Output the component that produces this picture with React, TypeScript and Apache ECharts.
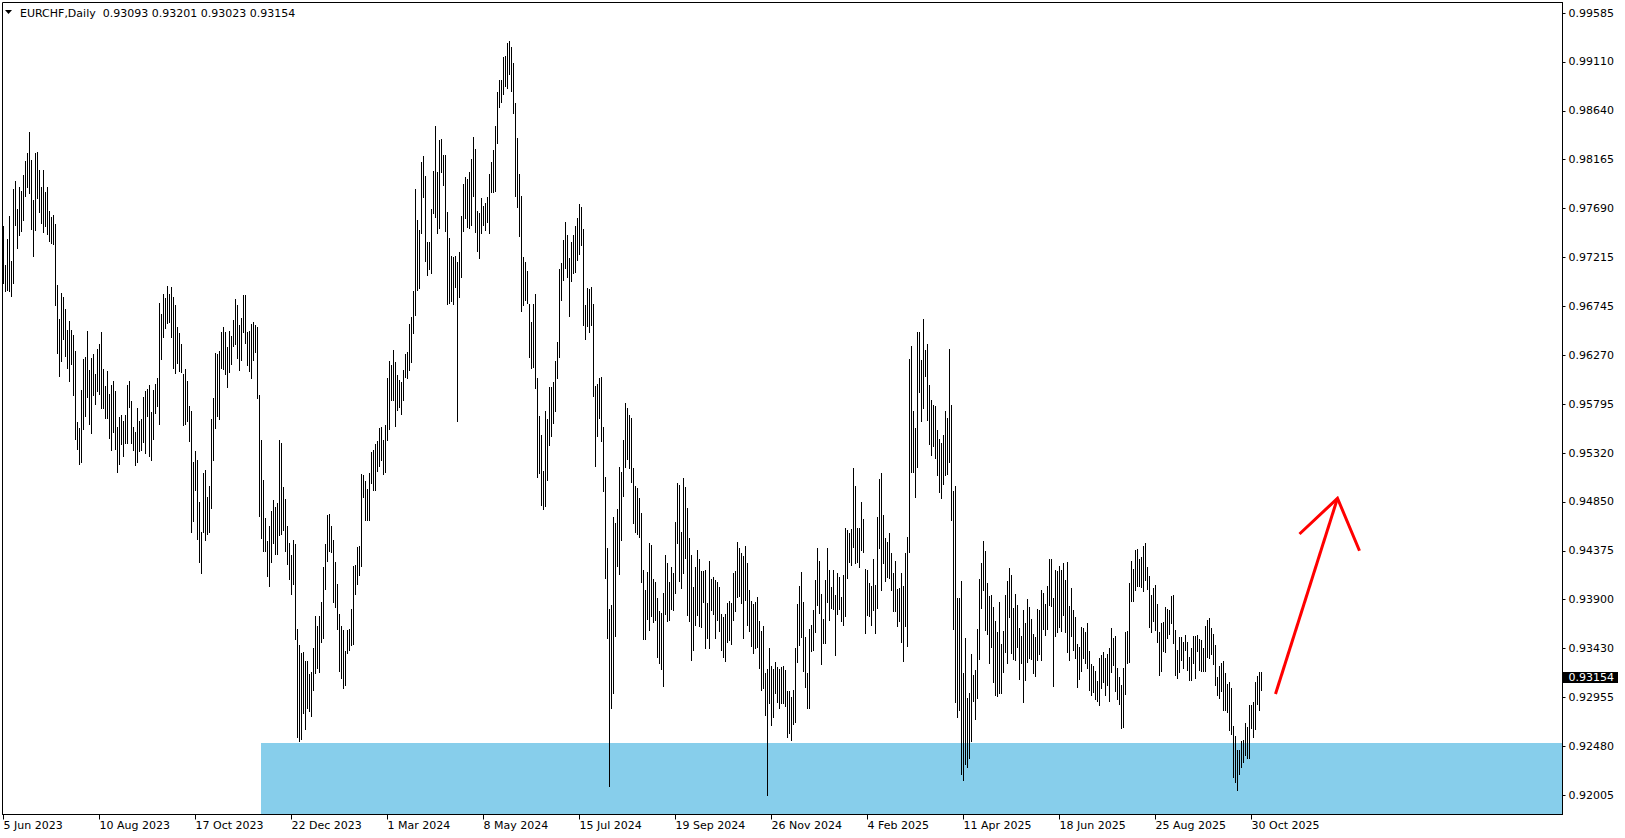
import React, { useEffect, useRef } from "react";
import * as echarts from "echarts";

// ---------- data ----------
const SYMBOL = "EURCHF";
const TIMEFRAME = "Daily";
const LAST_OHLC = [0.93093, 0.93201, 0.93023, 0.93154]; // open, high, low, close of last bar

const FIRST_DATE = "2023-06-05";
const HOLIDAYS_MMDD = ["12-25", "01-01"]; // days with no bar
const TOTAL_SLOTS = 780; // bars + empty space on the right (chart shift)

const X_TICK_LABELS = [
  "5 Jun 2023", "10 Aug 2023", "17 Oct 2023", "22 Dec 2023", "1 Mar 2024", "8 May 2024", "15 Jul 2024",
  "19 Sep 2024", "26 Nov 2024", "4 Feb 2025", "11 Apr 2025", "18 Jun 2025", "25 Aug 2025", "30 Oct 2025",
];

const Y_TICK_VALUES = [
  0.92005, 0.9247875, 0.929525, 0.9342625, 0.939, 0.9437375, 0.948475, 0.9532125, 0.95795,
  0.9626875, 0.967425, 0.9721625, 0.9769, 0.9816375, 0.986375, 0.9911125, 0.99585,
];
const Y_TICK_LABELS = [
  "0.92005", "0.92480", "0.92955", "0.93430", "0.93900", "0.94375", "0.94850", "0.95320", "0.95795",
  "0.96270", "0.96745", "0.97215", "0.97690", "0.98165", "0.98640", "0.99110", "0.99585",
];
const Y_MIN = 0.91819;
const Y_MAX = 0.996872;

const HIGHS = [
  0.9752,0.9714,0.9740,0.9762,0.9718,0.9788,0.9796,0.9769,0.9790,0.9786,
  0.9802,0.9815,0.9823,0.9843,0.9816,0.9777,0.9823,0.9824,0.9806,0.9790,
  0.9806,0.9785,0.9790,0.9767,0.9761,0.9763,0.9754,0.9695,0.9662,0.9687,
  0.9683,0.9672,0.9651,0.9660,0.9651,0.9647,0.9631,0.9562,0.9556,0.9593,
  0.9623,0.9625,0.9650,0.9613,0.9624,0.9628,0.9609,0.9633,0.9638,0.9649,
  0.9614,0.9597,0.9612,0.9589,0.9598,0.9602,0.9592,0.9557,0.9567,0.9569,
  0.9563,0.9569,0.9598,0.9602,0.9583,0.9557,0.9553,0.9576,0.9563,0.9565,
  0.9586,0.9592,0.9594,0.9598,0.9572,0.9593,0.9599,0.9605,0.9678,
  0.9667,0.9686,0.9682,0.9694,0.9686,0.9693,0.9683,0.9676,0.9654,0.9648,
  0.9638,0.9609,0.9614,0.9602,0.9578,0.9573,0.9523,0.9534,0.9525,0.9485,
  0.9456,0.9513,0.9516,0.9490,0.9500,0.9565,0.9585,0.9629,0.9628,0.9631,
  0.9649,0.9654,0.9649,0.9635,0.9650,0.9646,0.9661,0.9681,0.9676,0.9656,
  0.9663,0.9685,0.9685,0.9649,0.9650,0.9657,0.9659,0.9656,0.9654,0.9588,
  0.9545,0.9506,0.9469,0.9447,0.9461,0.9476,0.9487,0.9480,0.9484,0.9545,
  0.9542,0.9499,0.9488,0.9461,0.9445,0.9433,0.9448,0.9444,0.9362,0.9346,
  0.9338,0.9339,0.9331,0.9331,0.9318,0.9320,0.9343,0.9374,0.9365,0.9374,
  0.9388,0.9422,0.9444,0.9472,0.9473,0.9461,0.9448,0.9427,0.9405,0.9376,
  0.9365,0.9361,0.9340,0.9361,0.9362,0.9381,0.9423,0.9424,0.9441,0.9442,
  0.9512,0.9511,0.9505,0.9497,0.9513,0.9533,0.9535,0.9541,0.9544,0.9556,
  0.9557,0.9545,0.9559,0.9605,0.9621,0.9617,0.9632,0.9620,0.9608,0.9603,
  0.9601,0.9613,0.9628,0.9630,0.9657,0.9664,0.9689,0.9788,0.9758,0.9748,
  0.9814,0.9820,0.9801,0.9737,0.9737,0.9769,0.9805,0.9849,0.9804,0.9835,
  0.9836,0.9821,0.9821,0.9766,0.9741,0.9723,0.9722,0.9723,0.9717,0.9727,
  0.9762,0.9793,0.9800,0.9798,0.9804,0.9817,0.9838,0.9827,0.9767,0.9765,
  0.9779,0.9772,0.9774,0.9780,0.9803,0.9814,0.9826,0.9849,0.9882,0.9894,
  0.9894,0.9916,0.9917,0.9929,0.9931,0.9926,0.9910,0.9871,0.9837,0.9803,
  0.9781,0.9722,0.9717,0.9709,0.9677,0.9659,0.9677,0.9686,0.9605,0.9568,
  0.9550,0.9515,0.9573,0.9565,0.9596,0.9596,0.9601,0.9621,0.9640,0.9710,
  0.9716,0.9739,0.9756,0.9743,0.9721,0.9737,0.9743,0.9752,0.9760,0.9773,
  0.9771,0.9749,0.9676,0.9692,0.9691,0.9693,0.9677,0.9597,0.9599,0.9605,
  0.9606,0.9557,0.9509,0.9440,0.9381,0.9385,0.9470,0.9464,0.9478,0.9519,
  0.9514,0.9545,0.9581,0.9576,0.9569,0.9566,0.9518,0.9500,0.9498,0.9489,
  0.9474,0.9419,0.9399,0.9417,0.9445,0.9443,0.9410,0.9407,0.9392,0.9379,
  0.9377,0.9397,0.9433,0.9426,0.9407,0.9422,0.9416,0.9465,0.9503,0.9501,
  0.9456,0.9508,0.9499,0.9479,0.9450,0.9433,0.9402,0.9422,0.9438,0.9429,
  0.9418,0.9418,0.9419,0.9387,0.9428,0.9410,0.9412,0.9409,0.9407,0.9402,
  0.9376,0.9373,0.9376,0.9387,0.9389,0.9387,0.9416,0.9418,0.9446,0.9440,
  0.9435,0.9432,0.9442,0.9426,0.9399,0.9389,0.9386,0.9388,0.9393,0.9369,
  0.9360,0.9365,0.9319,0.9323,0.9343,0.9326,0.9323,0.9330,0.9325,0.9323,
  0.9325,0.9326,0.9322,0.9302,0.9302,0.9296,0.9303,0.9343,0.9386,0.9403,
  0.9417,0.9388,0.9354,0.9319,0.9362,0.9366,0.9380,0.9409,0.9440,0.9428,
  0.9396,0.9371,0.9409,0.9440,0.9419,0.9402,0.9419,0.9395,0.9416,0.9412,
  0.9393,0.9414,0.9460,0.9458,0.9455,0.9459,0.9518,0.9500,0.9460,0.9460,
  0.9485,0.9468,0.9420,0.9419,0.9406,0.9403,0.9429,0.9404,0.9470,0.9507,
  0.9513,0.9472,0.9450,0.9446,0.9455,0.9435,0.9416,0.9428,0.9400,0.9401,
  0.9416,0.9403,0.9435,0.9451,0.9623,0.9636,0.9573,0.9556,0.9649,0.9649,
  0.9622,0.9662,0.9632,0.9638,0.9598,0.9584,0.9579,0.9578,0.9554,0.9546,
  0.9542,0.9550,0.9573,0.9566,0.9633,0.9579,0.9495,0.9500,0.9392,0.9392,
  0.9408,0.9319,0.9353,0.9295,0.9300,0.9337,0.9317,0.9322,0.9362,0.9410,
  0.9426,0.9447,0.9437,0.9406,0.9394,0.9395,0.9383,0.9369,0.9359,0.9388,
  0.9347,0.9360,0.9395,0.9408,0.9421,0.9414,0.9382,0.9396,0.9385,0.9363,
  0.9355,0.9380,0.9367,0.9391,0.9383,0.9371,0.9357,0.9354,0.9381,0.9380,
  0.9399,0.9397,0.9386,0.9403,0.9429,0.9429,0.9392,0.9419,0.9418,0.9423,
  0.9419,0.9426,0.9409,0.9427,0.9384,0.9401,0.9380,0.9373,0.9347,0.9344,
  0.9364,0.9363,0.9359,0.9367,0.9340,0.9328,0.9326,0.9321,0.9311,0.9334,
  0.9336,0.9339,0.9334,0.9337,0.9343,0.9363,0.9353,0.9355,0.9324,0.9315,
  0.9307,0.9324,0.9359,0.9360,0.9406,0.9428,0.9420,0.9438,0.9439,0.9429,
  0.9431,0.9442,0.9445,0.9422,0.9413,0.9395,0.9401,0.9404,0.9386,0.9359,
  0.9367,0.9368,0.9383,0.9381,0.9380,0.9394,0.9395,0.9361,0.9341,0.9354,
  0.9354,0.9349,0.9356,0.9349,0.9335,0.9343,0.9355,0.9355,0.9356,0.9352,
  0.9351,0.9343,0.9365,0.9370,0.9372,0.9363,0.9357,0.9346,0.9315,0.9326,
  0.9329,0.9331,0.9319,0.9308,0.9310,0.9304,0.9268,0.9258,0.9244,0.9244,
  0.9253,0.9254,0.9271,0.9267,0.9288,0.9288,0.9291,0.9310,0.9316,0.9320,0.93201,
];

const LOWS = [
  0.9697,0.9689,0.9690,0.9689,0.9684,0.9697,0.9753,0.9731,0.9743,0.9747,
  0.9758,0.9781,0.9790,0.9784,0.9749,0.9723,0.9748,0.9779,0.9766,0.9755,
  0.9746,0.9752,0.9744,0.9738,0.9736,0.9735,0.9676,0.9629,0.9607,0.9621,
  0.9643,0.9626,0.9615,0.9602,0.9618,0.9588,0.9546,0.9536,0.9522,0.9523,
  0.9555,0.9568,0.9586,0.9560,0.9552,0.9588,0.9580,0.9592,0.9589,0.9576,
  0.9576,0.9566,0.9566,0.9547,0.9535,0.9553,0.9536,0.9514,0.9522,0.9541,
  0.9529,0.9542,0.9542,0.9577,0.9542,0.9535,0.9521,0.9523,0.9534,0.9535,
  0.9543,0.9532,0.9568,0.9529,0.9525,0.9546,0.9571,0.9578,0.9560,
  0.9623,0.9645,0.9653,0.9658,0.9659,0.9645,0.9615,0.9610,0.9619,0.9612,
  0.9611,0.9559,0.9560,0.9563,0.9544,0.9456,0.9466,0.9496,0.9449,0.9427,
  0.9416,0.9456,0.9448,0.9454,0.9456,0.9479,0.9525,0.9556,0.9568,0.9565,
  0.9615,0.9614,0.9609,0.9596,0.9611,0.9618,0.9636,0.9638,0.9624,0.9613,
  0.9622,0.9649,0.9639,0.9617,0.9612,0.9605,0.9622,0.9630,0.9585,0.9471,
  0.9450,0.9437,0.9437,0.9413,0.9403,0.9427,0.9445,0.9434,0.9434,0.9453,
  0.9454,0.9458,0.9437,0.9425,0.9410,0.9396,0.9405,0.9352,0.9257,0.9253,
  0.9255,0.9280,0.9265,0.9285,0.9282,0.9277,0.9303,0.9319,0.9324,0.9320,
  0.9349,0.9353,0.9400,0.9428,0.9437,0.9436,0.9388,0.9383,0.9362,0.9321,
  0.9314,0.9304,0.9307,0.9338,0.9341,0.9346,0.9347,0.9396,0.9405,0.9414,
  0.9423,0.9490,0.9467,0.9467,0.9467,0.9503,0.9496,0.9496,0.9515,0.9520,
  0.9525,0.9512,0.9514,0.9545,0.9555,0.9584,0.9584,0.9558,0.9574,0.9577,
  0.9570,0.9584,0.9606,0.9605,0.9613,0.9620,0.9648,0.9666,0.9690,0.9692,
  0.9745,0.9780,0.9718,0.9705,0.9710,0.9707,0.9765,0.9761,0.9745,0.9750,
  0.9804,0.9792,0.9747,0.9677,0.9678,0.9679,0.9677,0.9693,0.9563,0.9683,
  0.9703,0.9747,0.9760,0.9751,0.9750,0.9753,0.9781,0.9746,0.9728,0.9721,
  0.9745,0.9753,0.9748,0.9756,0.9745,0.9785,0.9785,0.9786,0.9833,0.9867,
  0.9872,0.9880,0.9888,0.9886,0.9899,0.9883,0.9862,0.9781,0.9771,0.9742,
  0.9670,0.9676,0.9680,0.9678,0.9625,0.9615,0.9616,0.9595,0.9509,0.9513,
  0.9482,0.9478,0.9481,0.9506,0.9540,0.9549,0.9561,0.9573,0.9605,0.9625,
  0.9680,0.9700,0.9711,0.9703,0.9665,0.9699,0.9707,0.9708,0.9719,0.9725,
  0.9734,0.9656,0.9643,0.9655,0.9649,0.9656,0.9587,0.9520,0.9549,0.9566,
  0.9544,0.9495,0.9411,0.9353,0.9210,0.9285,0.9300,0.9355,0.9423,0.9415,
  0.9448,0.9491,0.9519,0.9526,0.9518,0.9504,0.9464,0.9456,0.9454,0.9451,
  0.9407,0.9352,0.9352,0.9371,0.9361,0.9374,0.9368,0.9370,0.9335,0.9329,
  0.9323,0.9306,0.9376,0.9369,0.9370,0.9381,0.9380,0.9397,0.9445,0.9408,
  0.9401,0.9416,0.9430,0.9375,0.9369,0.9332,0.9341,0.9366,0.9375,0.9365,
  0.9364,0.9388,0.9343,0.9353,0.9343,0.9380,0.9376,0.9353,0.9370,0.9360,
  0.9341,0.9335,0.9331,0.9349,0.9351,0.9347,0.9370,0.9379,0.9393,0.9394,
  0.9387,0.9353,0.9390,0.9366,0.9360,0.9345,0.9338,0.9343,0.9344,0.9324,
  0.9303,0.9304,0.9278,0.9201,0.9290,0.9269,0.9276,0.9300,0.9291,0.9285,
  0.9290,0.9290,0.9287,0.9257,0.9261,0.9254,0.9270,0.9272,0.9330,0.9346,
  0.9354,0.9321,0.9305,0.9285,0.9285,0.9340,0.9341,0.9359,0.9385,0.9377,
  0.9328,0.9348,0.9348,0.9388,0.9370,0.9382,0.9381,0.9336,0.9376,0.9381,
  0.9369,0.9366,0.9374,0.9411,0.9427,0.9424,0.9441,0.9426,0.9427,0.9422,
  0.9438,0.9436,0.9358,0.9375,0.9374,0.9366,0.9380,0.9358,0.9382,0.9440,
  0.9399,0.9426,0.9408,0.9412,0.9411,0.9399,0.9379,0.9379,0.9365,0.9369,
  0.9349,0.9331,0.9365,0.9345,0.9436,0.9514,0.9514,0.9490,0.9519,0.9591,
  0.9563,0.9576,0.9607,0.9564,0.9541,0.9530,0.9539,0.9527,0.9511,0.9494,
  0.9489,0.9502,0.9511,0.9512,0.9523,0.9467,0.9362,0.9291,0.9276,0.9283,
  0.9221,0.9215,0.9231,0.9228,0.9237,0.9253,0.9292,0.9274,0.9295,0.9333,
  0.9382,0.9399,0.9361,0.9357,0.9329,0.9344,0.9310,0.9298,0.9297,0.9300,
  0.9300,0.9320,0.9339,0.9329,0.9373,0.9338,0.9333,0.9332,0.9344,0.9313,
  0.9329,0.9291,0.9312,0.9330,0.9334,0.9333,0.9319,0.9316,0.9332,0.9337,
  0.9332,0.9362,0.9356,0.9362,0.9385,0.9384,0.9306,0.9355,0.9359,0.9364,
  0.9360,0.9375,0.9359,0.9339,0.9332,0.9355,0.9341,0.9334,0.9305,0.9313,
  0.9321,0.9334,0.9329,0.9324,0.9303,0.9298,0.9301,0.9294,0.9292,0.9288,
  0.9304,0.9310,0.9298,0.9307,0.9292,0.9320,0.9327,0.9302,0.9294,0.9289,
  0.9266,0.9267,0.9299,0.9329,0.9330,0.9389,0.9389,0.9399,0.9403,0.9403,
  0.9402,0.9398,0.9409,0.9400,0.9364,0.9359,0.9369,0.9361,0.9349,0.9317,
  0.9321,0.9340,0.9339,0.9353,0.9357,0.9367,0.9348,0.9317,0.9314,0.9320,
  0.9332,0.9324,0.9341,0.9322,0.9312,0.9312,0.9329,0.9314,0.9340,0.9322,
  0.9321,0.9321,0.9321,0.9335,0.9334,0.9337,0.9328,0.9307,0.9298,0.9295,
  0.9302,0.9283,0.9283,0.9281,0.9264,0.9260,0.9218,0.9213,0.9206,0.9221,
  0.9228,0.9233,0.9240,0.9237,0.9237,0.9266,0.9257,0.9265,0.9289,0.9283,0.93023,
];

// support zone: starting bar index, top price (extends to the bottom and right edge)
const ZONE = [129, 0.92515];
// arrow: shaft start, tip, head-left end, head-right end  (bar index, price)
const ARROW = [636, 0.92987, 667, 0.94883, 648, 0.94537, 678, 0.94375];

// ---------- helpers ----------
const MONTHS = ["Jan", "Feb", "Mar", "Apr", "May", "Jun", "Jul", "Aug", "Sep", "Oct", "Nov", "Dec"];
function buildDates(): string[] {
  const out: string[] = [];
  const d = new Date(FIRST_DATE + "T00:00:00Z");
  while (out.length < TOTAL_SLOTS) {
    const wd = d.getUTCDay();
    const mmdd = String(d.getUTCMonth() + 1).padStart(2, "0") + "-" + String(d.getUTCDate()).padStart(2, "0");
    if (wd !== 0 && wd !== 6 && !HOLIDAYS_MMDD.includes(mmdd)) {
      out.push(`${d.getUTCDate()} ${MONTHS[d.getUTCMonth()]} ${d.getUTCFullYear()}`);
    }
    d.setUTCDate(d.getUTCDate() + 1);
  }
  return out;
}

const FONT = "DejaVu Sans";

export default function App() {
  const ref = useRef<HTMLDivElement>(null);
  useEffect(() => {
    document.body.style.margin = "0";
    const chart = echarts.init(ref.current!, null, { renderer: "svg" });
    const dates = buildDates();
    const nBars = HIGHS.length;
    const barData = HIGHS.map((h, i) => [i, h, LOWS[i]]);
    const isTickLabel = (index: number, value: string) => index < nBars && X_TICK_LABELS.includes(value);

    const option: any = {
      animation: false,
      backgroundColor: "#ffffff",
      textStyle: { fontFamily: FONT, fontSize: 11, color: "#000" },
      grid: {
        left: 2.5,
        top: 2.5,
        right: 62.5,
        bottom: 23.5,
        show: true,
        borderColor: "#000",
        borderWidth: 1,
        backgroundColor: "#fff",
      },
      xAxis: {
        type: "category",
        data: dates,
        boundaryGap: true,
        axisLine: { show: true, lineStyle: { color: "#000", width: 1 } },
        axisTick: { show: true, interval: isTickLabel, alignWithLabel: true, length: 5, lineStyle: { color: "#000" } },
        axisLabel: {
          show: true,
          interval: isTickLabel,
          align: "left",
          margin: 5,
          color: "#000",
          fontFamily: FONT,
          fontSize: 11,
        },
        splitLine: { show: false },
      },
      yAxis: {
        type: "value",
        position: "right",
        min: Y_MIN,
        max: Y_MAX,
        scale: true,
        axisLine: { show: true, lineStyle: { color: "#000", width: 1 } },
        axisTick: { show: true, inside: false, length: 3, customValues: Y_TICK_VALUES, lineStyle: { color: "#000" } },
        axisLabel: {
          show: true,
          customValues: Y_TICK_VALUES,
          margin: 6,
          color: "#000",
          fontFamily: FONT,
          fontSize: 11,
          formatter: (v: number) => {
            let best = 0;
            for (let k = 1; k < Y_TICK_VALUES.length; k++) {
              if (Math.abs(Y_TICK_VALUES[k] - v) < Math.abs(Y_TICK_VALUES[best] - v)) best = k;
            }
            return Y_TICK_LABELS[best];
          },
        },
        splitLine: { show: false },
      },
      series: [
        {
          name: "zone",
          type: "custom",
          z: 1,
          silent: true,
          data: [ZONE],
          encode: { x: 0, y: 1 },
          renderItem: (params: any, api: any) => {
            const cs = params.coordSys;
            const p = api.coord([api.value(0), api.value(1)]);
            const x0 = Math.floor(p[0]);
            const y0 = Math.round(p[1]);
            return {
              type: "rect",
              shape: { x: x0, y: y0, width: cs.x + cs.width - 0.5 - x0, height: cs.y + cs.height - 0.5 - y0 },
              style: { fill: "#87CEEB" },
            };
          },
        },
        {
          name: SYMBOL,
          type: "custom",
          z: 2,
          silent: true,
          data: barData,
          encode: { x: 0, y: [1, 2] },
          renderItem: (params: any, api: any) => {
            const i = api.value(0);
            const a = api.value(1);
            const b = api.value(2);
            const pHi = api.coord([i, Math.max(a, b)]);
            const pLo = api.coord([i, Math.min(a, b)]);
            const x = Math.floor(pHi[0]);
            const y0 = Math.round(pHi[1]);
            const y1 = Math.round(pLo[1]) + 1;
            return {
              type: "rect",
              shape: { x, y: y0, width: 1, height: Math.max(1, y1 - y0) },
              style: { fill: "#000" },
            };
          },
        },
        {
          name: "arrow",
          type: "custom",
          z: 3,
          silent: true,
          data: [ARROW],
          encode: { x: [0, 2, 4, 6], y: [1, 3, 5, 7] },
          renderItem: (params: any, api: any) => {
            const s = api.coord([api.value(0), api.value(1)]);
            const t = api.coord([api.value(2), api.value(3)]);
            const l = api.coord([api.value(4), api.value(5)]);
            const r = api.coord([api.value(6), api.value(7)]);
            const style = { stroke: "#FF0000", lineWidth: 3, fill: null, lineJoin: "miter" };
            return {
              type: "group",
              children: [
                { type: "polyline", shape: { points: [s, t] }, style },
                { type: "polyline", shape: { points: [l, t, r] }, style },
              ],
            };
          },
        },
        {
          name: "price",
          type: "custom",
          z: 4,
          silent: true,
          clip: false,
          data: [[nBars - 1, LAST_OHLC[3]]],
          encode: { x: 0, y: 1 },
          renderItem: (params: any, api: any) => {
            const cs = params.coordSys;
            const p = api.coord([api.value(0), api.value(1)]);
            const y = Math.round(p[1]);
            const xr = cs.x + cs.width;
            return {
              type: "group",
              children: [
                { type: "rect", shape: { x: xr + 0.5, y: y - 5, width: 55, height: 11 }, style: { fill: "#000" } },
                {
                  type: "text",
                  x: xr + 6,
                  y: y + 0.5,
                  style: {
                    text: Number(api.value(1)).toFixed(5),
                    fill: "#fff",
                    font: `11px "${FONT}"`,
                    verticalAlign: "middle",
                    align: "left",
                  },
                },
              ],
            };
          },
        },
      ],
      graphic: [
        {
          type: "polygon",
          shape: { points: [[5, 10], [12, 10], [8.5, 14]] },
          style: { fill: "#000" },
          z: 10,
        },
        {
          type: "text",
          x: 20,
          y: 13,
          z: 10,
          style: {
            text: `${SYMBOL},${TIMEFRAME}  ${LAST_OHLC.map((v) => v.toFixed(5)).join(" ")}`,
            fill: "#000",
            font: `11px "${FONT}"`,
            verticalAlign: "middle",
            align: "left",
          },
        },
      ],
    };
    chart.setOption(option);
    return () => chart.dispose();
  }, []);
  return (
    <div
      ref={ref}
      style={{ position: "absolute", left: 0, top: 0, width: 1625, height: 838, background: "#fff" }}
    />
  );
}
